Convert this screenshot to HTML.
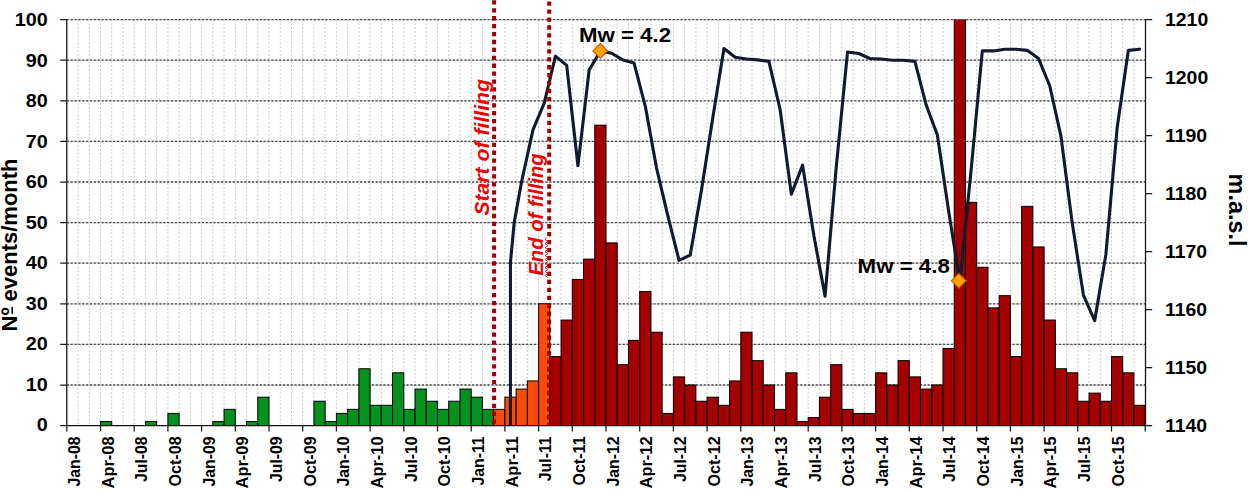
<!DOCTYPE html>
<html><head><meta charset="utf-8"><title>Seismicity and reservoir level</title>
<style>html,body{margin:0;padding:0;background:#fff;}body{width:1248px;height:490px;overflow:hidden;}svg{display:block;font-family:"Liberation Sans",sans-serif;}</style></head><body>
<svg width="1248" height="490" viewBox="0 0 1248 490">
<rect x="0" y="0" width="1248" height="490" fill="#fff"/>
<defs><clipPath id="plot"><rect x="66.80" y="19.60" width="1078.40" height="406.00"/></clipPath></defs>
<path d="M78.03 19.60V425.60M89.27 19.60V425.60M100.50 19.60V425.60M111.73 19.60V425.60M122.97 19.60V425.60M134.20 19.60V425.60M145.43 19.60V425.60M156.67 19.60V425.60M167.90 19.60V425.60M179.13 19.60V425.60M190.37 19.60V425.60M201.60 19.60V425.60M212.83 19.60V425.60M224.07 19.60V425.60M235.30 19.60V425.60M246.53 19.60V425.60M257.77 19.60V425.60M269.00 19.60V425.60M280.23 19.60V425.60M291.47 19.60V425.60M302.70 19.60V425.60M313.93 19.60V425.60M325.17 19.60V425.60M336.40 19.60V425.60M347.63 19.60V425.60M358.87 19.60V425.60M370.10 19.60V425.60M381.33 19.60V425.60M392.57 19.60V425.60M403.80 19.60V425.60M415.03 19.60V425.60M426.27 19.60V425.60M437.50 19.60V425.60M448.73 19.60V425.60M459.97 19.60V425.60M471.20 19.60V425.60M482.43 19.60V425.60M493.67 19.60V425.60M504.90 19.60V425.60M516.13 19.60V425.60M527.37 19.60V425.60M538.60 19.60V425.60M549.83 19.60V425.60M561.07 19.60V425.60M572.30 19.60V425.60M583.53 19.60V425.60M594.77 19.60V425.60M606.00 19.60V425.60M617.23 19.60V425.60M628.47 19.60V425.60M639.70 19.60V425.60M650.93 19.60V425.60M662.17 19.60V425.60M673.40 19.60V425.60M684.63 19.60V425.60M695.87 19.60V425.60M707.10 19.60V425.60M718.33 19.60V425.60M729.57 19.60V425.60M740.80 19.60V425.60M752.03 19.60V425.60M763.27 19.60V425.60M774.50 19.60V425.60M785.73 19.60V425.60M796.97 19.60V425.60M808.20 19.60V425.60M819.43 19.60V425.60M830.67 19.60V425.60M841.90 19.60V425.60M853.13 19.60V425.60M864.37 19.60V425.60M875.60 19.60V425.60M886.83 19.60V425.60M898.07 19.60V425.60M909.30 19.60V425.60M920.53 19.60V425.60M931.77 19.60V425.60M943.00 19.60V425.60M954.23 19.60V425.60M965.47 19.60V425.60M976.70 19.60V425.60M987.93 19.60V425.60M999.17 19.60V425.60M1010.40 19.60V425.60M1021.63 19.60V425.60M1032.87 19.60V425.60M1044.10 19.60V425.60M1055.33 19.60V425.60M1066.57 19.60V425.60M1077.80 19.60V425.60M1089.03 19.60V425.60M1100.27 19.60V425.60M1111.50 19.60V425.60M1122.73 19.60V425.60M1133.97 19.60V425.60" stroke="#c6c6c6" stroke-width="1" stroke-dasharray="1.9 1.9" fill="none"/>
<path d="M66.80 385.00H1145.20M66.80 344.40H1145.20M66.80 303.80H1145.20M66.80 263.20H1145.20M66.80 222.60H1145.20M66.80 182.00H1145.20M66.80 141.40H1145.20M66.80 100.80H1145.20M66.80 60.20H1145.20M66.80 19.60H1145.20" stroke="#d2d2d2" stroke-width="1.2" fill="none"/>
<path d="M66.80 385.00H1145.20M66.80 344.40H1145.20M66.80 303.80H1145.20M66.80 263.20H1145.20M66.80 222.60H1145.20M66.80 182.00H1145.20M66.80 141.40H1145.20M66.80 100.80H1145.20M66.80 60.20H1145.20M66.80 19.60H1145.20" stroke="#484848" stroke-width="1.3" stroke-dasharray="2.1 1.76" fill="none"/>
<g clip-path="url(#plot)" stroke="#000" stroke-width="1">
<rect x="100.50" y="421.54" width="11.23" height="4.06" fill="#04921f"/>
<rect x="145.43" y="421.54" width="11.23" height="4.06" fill="#04921f"/>
<rect x="167.90" y="413.42" width="11.23" height="12.18" fill="#04921f"/>
<rect x="212.83" y="421.54" width="11.23" height="4.06" fill="#04921f"/>
<rect x="224.07" y="409.36" width="11.23" height="16.24" fill="#04921f"/>
<rect x="246.53" y="421.54" width="11.23" height="4.06" fill="#04921f"/>
<rect x="257.77" y="397.18" width="11.23" height="28.42" fill="#04921f"/>
<rect x="313.93" y="401.24" width="11.23" height="24.36" fill="#04921f"/>
<rect x="325.17" y="421.54" width="11.23" height="4.06" fill="#04921f"/>
<rect x="336.40" y="413.42" width="11.23" height="12.18" fill="#04921f"/>
<rect x="347.63" y="409.36" width="11.23" height="16.24" fill="#04921f"/>
<rect x="358.87" y="368.76" width="11.23" height="56.84" fill="#04921f"/>
<rect x="370.10" y="405.30" width="11.23" height="20.30" fill="#04921f"/>
<rect x="381.33" y="405.30" width="11.23" height="20.30" fill="#04921f"/>
<rect x="392.57" y="372.82" width="11.23" height="52.78" fill="#04921f"/>
<rect x="403.80" y="409.36" width="11.23" height="16.24" fill="#04921f"/>
<rect x="415.03" y="389.06" width="11.23" height="36.54" fill="#04921f"/>
<rect x="426.27" y="401.24" width="11.23" height="24.36" fill="#04921f"/>
<rect x="437.50" y="409.36" width="11.23" height="16.24" fill="#04921f"/>
<rect x="448.73" y="401.24" width="11.23" height="24.36" fill="#04921f"/>
<rect x="459.97" y="389.06" width="11.23" height="36.54" fill="#04921f"/>
<rect x="471.20" y="397.18" width="11.23" height="28.42" fill="#04921f"/>
<rect x="482.43" y="409.36" width="11.23" height="16.24" fill="#04921f"/>
<rect x="493.67" y="409.36" width="11.23" height="16.24" fill="#fb4b0b"/>
<rect x="504.90" y="397.18" width="11.23" height="28.42" fill="#fb4b0b"/>
<rect x="516.13" y="389.06" width="11.23" height="36.54" fill="#fb4b0b"/>
<rect x="527.37" y="380.94" width="11.23" height="44.66" fill="#fb4b0b"/>
<rect x="538.60" y="303.80" width="11.23" height="121.80" fill="#fb4b0b"/>
<rect x="549.83" y="356.58" width="11.23" height="69.02" fill="#a40000"/>
<rect x="561.07" y="320.04" width="11.23" height="105.56" fill="#a40000"/>
<rect x="572.30" y="279.44" width="11.23" height="146.16" fill="#a40000"/>
<rect x="583.53" y="259.14" width="11.23" height="166.46" fill="#a40000"/>
<rect x="594.77" y="125.16" width="11.23" height="300.44" fill="#a40000"/>
<rect x="606.00" y="242.90" width="11.23" height="182.70" fill="#a40000"/>
<rect x="617.23" y="364.70" width="11.23" height="60.90" fill="#a40000"/>
<rect x="628.47" y="340.34" width="11.23" height="85.26" fill="#a40000"/>
<rect x="639.70" y="291.62" width="11.23" height="133.98" fill="#a40000"/>
<rect x="650.93" y="332.22" width="11.23" height="93.38" fill="#a40000"/>
<rect x="662.17" y="413.42" width="11.23" height="12.18" fill="#a40000"/>
<rect x="673.40" y="376.88" width="11.23" height="48.72" fill="#a40000"/>
<rect x="684.63" y="385.00" width="11.23" height="40.60" fill="#a40000"/>
<rect x="695.87" y="401.24" width="11.23" height="24.36" fill="#a40000"/>
<rect x="707.10" y="397.18" width="11.23" height="28.42" fill="#a40000"/>
<rect x="718.33" y="405.30" width="11.23" height="20.30" fill="#a40000"/>
<rect x="729.57" y="380.94" width="11.23" height="44.66" fill="#a40000"/>
<rect x="740.80" y="332.22" width="11.23" height="93.38" fill="#a40000"/>
<rect x="752.03" y="360.64" width="11.23" height="64.96" fill="#a40000"/>
<rect x="763.27" y="385.00" width="11.23" height="40.60" fill="#a40000"/>
<rect x="774.50" y="409.36" width="11.23" height="16.24" fill="#a40000"/>
<rect x="785.73" y="372.82" width="11.23" height="52.78" fill="#a40000"/>
<rect x="796.97" y="421.54" width="11.23" height="4.06" fill="#a40000"/>
<rect x="808.20" y="417.48" width="11.23" height="8.12" fill="#a40000"/>
<rect x="819.43" y="397.18" width="11.23" height="28.42" fill="#a40000"/>
<rect x="830.67" y="364.70" width="11.23" height="60.90" fill="#a40000"/>
<rect x="841.90" y="409.36" width="11.23" height="16.24" fill="#a40000"/>
<rect x="853.13" y="413.42" width="11.23" height="12.18" fill="#a40000"/>
<rect x="864.37" y="413.42" width="11.23" height="12.18" fill="#a40000"/>
<rect x="875.60" y="372.82" width="11.23" height="52.78" fill="#a40000"/>
<rect x="886.83" y="385.00" width="11.23" height="40.60" fill="#a40000"/>
<rect x="898.07" y="360.64" width="11.23" height="64.96" fill="#a40000"/>
<rect x="909.30" y="376.88" width="11.23" height="48.72" fill="#a40000"/>
<rect x="920.53" y="389.06" width="11.23" height="36.54" fill="#a40000"/>
<rect x="931.77" y="385.00" width="11.23" height="40.60" fill="#a40000"/>
<rect x="943.00" y="348.46" width="11.23" height="77.14" fill="#a40000"/>
<rect x="954.23" y="-61.60" width="11.23" height="487.20" fill="#a40000"/>
<rect x="965.47" y="202.30" width="11.23" height="223.30" fill="#a40000"/>
<rect x="976.70" y="267.26" width="11.23" height="158.34" fill="#a40000"/>
<rect x="987.93" y="307.86" width="11.23" height="117.74" fill="#a40000"/>
<rect x="999.17" y="295.68" width="11.23" height="129.92" fill="#a40000"/>
<rect x="1010.40" y="356.58" width="11.23" height="69.02" fill="#a40000"/>
<rect x="1021.63" y="206.36" width="11.23" height="219.24" fill="#a40000"/>
<rect x="1032.87" y="246.96" width="11.23" height="178.64" fill="#a40000"/>
<rect x="1044.10" y="320.04" width="11.23" height="105.56" fill="#a40000"/>
<rect x="1055.33" y="368.76" width="11.23" height="56.84" fill="#a40000"/>
<rect x="1066.57" y="372.82" width="11.23" height="52.78" fill="#a40000"/>
<rect x="1077.80" y="401.24" width="11.23" height="24.36" fill="#a40000"/>
<rect x="1089.03" y="393.12" width="11.23" height="32.48" fill="#a40000"/>
<rect x="1100.27" y="401.24" width="11.23" height="24.36" fill="#a40000"/>
<rect x="1111.50" y="356.58" width="11.23" height="69.02" fill="#a40000"/>
<rect x="1122.73" y="372.82" width="11.23" height="52.78" fill="#a40000"/>
<rect x="1133.97" y="405.30" width="11.23" height="20.30" fill="#a40000"/>
</g>
<path d="M510.42 427.60L510.42 262.62L514.2 222.60L521.75 180.84L532.98 129.80L544.22 103.12L555.45 56.14L566.68 65.42L577.92 165.76L589.15 70.06L600.38 50.92L611.62 53.24L622.85 59.91L634.08 63.10L645.32 106.31L656.55 168.08L667.78 215.64L679.02 260.30L690.25 255.08L701.48 190.12L712.72 118.20L723.95 48.60L735.18 57.30L746.42 59.04L757.65 59.91L768.88 61.36L780.12 109.50L791.35 194.18L802.58 165.18L813.82 235.36L825.05 296.26L836.28 166.92L847.52 52.08L858.75 53.53L869.98 58.46L881.22 59.04L892.45 60.20L903.68 60.20L914.92 61.36L926.15 104.86L937.38 135.02L948.62 211.00L959.85 281.18L971.08 170.40L982.32 50.92L993.55 50.92L1004.78 49.18L1016.02 49.18L1027.25 50.34L1038.48 58.46L1049.72 85.72L1060.95 136.18L1072.18 222.60L1083.42 295.10L1094.65 320.62L1105.88 254.50L1117.12 128.06L1128.35 50.34L1139.58 49.18" stroke="#111a2e" stroke-width="3.1" fill="none" stroke-linejoin="round" stroke-linecap="round" clip-path="url(#plot)"/>
<path d="M494.1 0.3V426" stroke="#a00000" stroke-width="4" stroke-dasharray="4.3 3.61" fill="none"/>
<path d="M549.2 1.5V426" stroke="#a00000" stroke-width="4" stroke-dasharray="4.3 3.65" fill="none"/>
<path d="M546.4 237.5L545.0 239.5L547.8 241.5L545.0 243.5L547.8 245.5L545.0 247.5L547.8 249.5L545.0 251.5L547.8 253.5L545.0 255.5L547.8 257.5L545.0 259.5L547.8 261.5L545.0 263.5L547.8 265.5L545.0 267.5L547.8 269.5L545.0 271.5L547.8 273.5L545.0 275.5L547.8 277.5" stroke="#e81010" stroke-width="0.9" fill="none"/>
<path d="M600.30 43.50L607.70 50.90L600.30 58.30L592.90 50.90Z" fill="#ffa200" stroke="#c05500" stroke-width="1.1"/>
<path d="M958.80 273.40L966.20 280.80L958.80 288.20L951.40 280.80Z" fill="#ffa200" stroke="#c05500" stroke-width="1.1"/>
<path d="M66.80 19.60V425.60" stroke="#151515" stroke-width="1.3" fill="none"/>
<path d="M1145.50 19.60V425.60" stroke="#151515" stroke-width="1.3" fill="none"/>
<path d="M66.80 425.60H1145.20" stroke="#111" stroke-width="1.3" fill="none"/>
<path d="M60.2 425.60H66.80M60.2 385.00H66.80M60.2 344.40H66.80M60.2 303.80H66.80M60.2 263.20H66.80M60.2 222.60H66.80M60.2 182.00H66.80M60.2 141.40H66.80M60.2 100.80H66.80M60.2 60.20H66.80M60.2 19.60H66.80M1145.20 425.60H1152.2M1145.20 367.60H1152.2M1145.20 309.60H1152.2M1145.20 251.60H1152.2M1145.20 193.60H1152.2M1145.20 135.60H1152.2M1145.20 77.60H1152.2M1145.20 19.60H1152.2M66.80 425.60V431.4M100.50 425.60V431.4M134.20 425.60V431.4M167.90 425.60V431.4M201.60 425.60V431.4M235.30 425.60V431.4M269.00 425.60V431.4M302.70 425.60V431.4M336.40 425.60V431.4M370.10 425.60V431.4M403.80 425.60V431.4M437.50 425.60V431.4M471.20 425.60V431.4M504.90 425.60V431.4M538.60 425.60V431.4M572.30 425.60V431.4M606.00 425.60V431.4M639.70 425.60V431.4M673.40 425.60V431.4M707.10 425.60V431.4M740.80 425.60V431.4M774.50 425.60V431.4M808.20 425.60V431.4M841.90 425.60V431.4M875.60 425.60V431.4M909.30 425.60V431.4M943.00 425.60V431.4M976.70 425.60V431.4M1010.40 425.60V431.4M1044.10 425.60V431.4M1077.80 425.60V431.4M1111.50 425.60V431.4M1145.20 425.60V431.4" stroke="#1a1a1a" stroke-width="1.25" fill="none"/>
<g font-weight="bold" fill="#000">
<text transform="translate(47.80 431.20) scale(1.0700 1)" font-size="18.50" text-anchor="end">0</text>
<text transform="translate(47.80 390.70) scale(1.0700 1)" font-size="18.50" text-anchor="end">10</text>
<text transform="translate(47.80 350.20) scale(1.0700 1)" font-size="18.50" text-anchor="end">20</text>
<text transform="translate(47.80 309.70) scale(1.0700 1)" font-size="18.50" text-anchor="end">30</text>
<text transform="translate(47.80 269.20) scale(1.0700 1)" font-size="18.50" text-anchor="end">40</text>
<text transform="translate(47.80 228.70) scale(1.0700 1)" font-size="18.50" text-anchor="end">50</text>
<text transform="translate(47.80 188.20) scale(1.0700 1)" font-size="18.50" text-anchor="end">60</text>
<text transform="translate(47.80 147.70) scale(1.0700 1)" font-size="18.50" text-anchor="end">70</text>
<text transform="translate(47.80 107.20) scale(1.0700 1)" font-size="18.50" text-anchor="end">80</text>
<text transform="translate(47.80 66.70) scale(1.0700 1)" font-size="18.50" text-anchor="end">90</text>
<text transform="translate(47.80 26.20) scale(1.0700 1)" font-size="18.50" text-anchor="end">100</text>
<text transform="translate(1165.00 432.20) scale(1.0500 1)" font-size="18.50">1140</text>
<text transform="translate(1165.00 374.20) scale(1.0500 1)" font-size="18.50">1150</text>
<text transform="translate(1165.00 316.20) scale(1.0500 1)" font-size="18.50">1160</text>
<text transform="translate(1165.00 258.20) scale(1.0500 1)" font-size="18.50">1170</text>
<text transform="translate(1165.00 200.20) scale(1.0500 1)" font-size="18.50">1180</text>
<text transform="translate(1165.00 142.20) scale(1.0500 1)" font-size="18.50">1190</text>
<text transform="translate(1165.00 84.20) scale(1.0500 1)" font-size="18.50">1200</text>
<text transform="translate(1165.00 26.20) scale(1.0500 1)" font-size="18.50">1210</text>
<text transform="translate(80.02 436.40) rotate(-90)" font-size="15.80" text-anchor="end">Jan-08</text>
<text transform="translate(113.68 436.40) rotate(-90) scale(1.0400 1)" font-size="15.80" text-anchor="end">Apr-08</text>
<text transform="translate(147.34 436.40) rotate(-90)" font-size="15.80" text-anchor="end">Jul-08</text>
<text transform="translate(181.01 436.40) rotate(-90) scale(1.0200 1)" font-size="15.80" text-anchor="end">Oct-08</text>
<text transform="translate(214.67 436.40) rotate(-90)" font-size="15.80" text-anchor="end">Jan-09</text>
<text transform="translate(248.34 436.40) rotate(-90) scale(1.0400 1)" font-size="15.80" text-anchor="end">Apr-09</text>
<text transform="translate(282.00 436.40) rotate(-90)" font-size="15.80" text-anchor="end">Jul-09</text>
<text transform="translate(315.66 436.40) rotate(-90) scale(1.0200 1)" font-size="15.80" text-anchor="end">Oct-09</text>
<text transform="translate(349.33 436.40) rotate(-90)" font-size="15.80" text-anchor="end">Jan-10</text>
<text transform="translate(382.99 436.40) rotate(-90) scale(1.0400 1)" font-size="15.80" text-anchor="end">Apr-10</text>
<text transform="translate(416.66 436.40) rotate(-90)" font-size="15.80" text-anchor="end">Jul-10</text>
<text transform="translate(450.32 436.40) rotate(-90) scale(1.0200 1)" font-size="15.80" text-anchor="end">Oct-10</text>
<text transform="translate(483.98 436.40) rotate(-90)" font-size="15.80" text-anchor="end">Jan-11</text>
<text transform="translate(517.65 436.40) rotate(-90) scale(1.0400 1)" font-size="15.80" text-anchor="end">Apr-11</text>
<text transform="translate(551.31 436.40) rotate(-90)" font-size="15.80" text-anchor="end">Jul-11</text>
<text transform="translate(584.98 436.40) rotate(-90) scale(1.0200 1)" font-size="15.80" text-anchor="end">Oct-11</text>
<text transform="translate(618.64 436.40) rotate(-90)" font-size="15.80" text-anchor="end">Jan-12</text>
<text transform="translate(652.30 436.40) rotate(-90) scale(1.0400 1)" font-size="15.80" text-anchor="end">Apr-12</text>
<text transform="translate(685.97 436.40) rotate(-90)" font-size="15.80" text-anchor="end">Jul-12</text>
<text transform="translate(719.63 436.40) rotate(-90) scale(1.0200 1)" font-size="15.80" text-anchor="end">Oct-12</text>
<text transform="translate(753.30 436.40) rotate(-90)" font-size="15.80" text-anchor="end">Jan-13</text>
<text transform="translate(786.96 436.40) rotate(-90) scale(1.0400 1)" font-size="15.80" text-anchor="end">Apr-13</text>
<text transform="translate(820.62 436.40) rotate(-90)" font-size="15.80" text-anchor="end">Jul-13</text>
<text transform="translate(854.29 436.40) rotate(-90) scale(1.0200 1)" font-size="15.80" text-anchor="end">Oct-13</text>
<text transform="translate(887.95 436.40) rotate(-90)" font-size="15.80" text-anchor="end">Jan-14</text>
<text transform="translate(921.62 436.40) rotate(-90) scale(1.0400 1)" font-size="15.80" text-anchor="end">Apr-14</text>
<text transform="translate(955.28 436.40) rotate(-90)" font-size="15.80" text-anchor="end">Jul-14</text>
<text transform="translate(988.94 436.40) rotate(-90) scale(1.0200 1)" font-size="15.80" text-anchor="end">Oct-14</text>
<text transform="translate(1022.61 436.40) rotate(-90)" font-size="15.80" text-anchor="end">Jan-15</text>
<text transform="translate(1056.27 436.40) rotate(-90) scale(1.0400 1)" font-size="15.80" text-anchor="end">Apr-15</text>
<text transform="translate(1089.94 436.40) rotate(-90)" font-size="15.80" text-anchor="end">Jul-15</text>
<text transform="translate(1123.60 436.40) rotate(-90) scale(1.0200 1)" font-size="15.80" text-anchor="end">Oct-15</text>
<text transform="translate(17.40 331.50) rotate(-90)" font-size="22.00">Nº events/month</text>
<text transform="translate(1229.30 173.60) rotate(90) scale(0.9750 1)" font-size="24.00">m.a.s.l</text>
<text transform="translate(578.90 41.90) scale(1.1130 1)" font-size="20.00">Mw = 4.2</text>
<text transform="translate(857.60 273.40) scale(1.1130 1)" font-size="20.00">Mw = 4.8</text>
<rect x="11.4" y="306.9" width="1.6" height="6.9" fill="#000"/>
</g>
<g font-weight="bold" font-style="italic" fill="#f00000">
<text transform="translate(489.40 215.60) rotate(-90) scale(1.0340 1)" font-size="20.50">Start of filling</text>
<text transform="translate(542.80 275.60) rotate(-90) scale(0.9860 1)" font-size="20.50">End of filling</text>
</g>
</svg></body></html>
